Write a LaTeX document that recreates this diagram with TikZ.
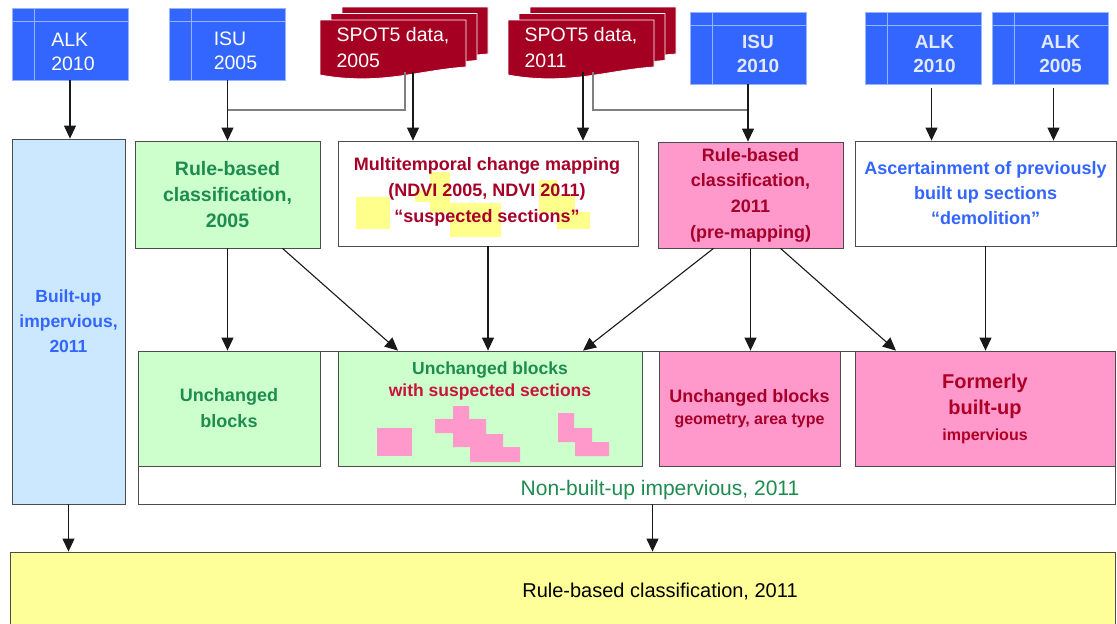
\documentclass[tikz,border=0pt]{standalone}
\usepackage{fontspec}
\setmainfont{Liberation Sans}
\usetikzlibrary{arrows.meta}

\definecolor{dbblue}{RGB}{51,102,255}
\definecolor{dbline}{RGB}{150,180,255}
\definecolor{dbwhite}{RGB}{225,232,255}
\definecolor{spotred}{RGB}{165,0,33}
\definecolor{lgreen}{RGB}{204,255,204}
\definecolor{tgreen}{RGB}{30,140,80}
\definecolor{pinkfill}{RGB}{255,153,204}
\definecolor{tred}{RGB}{165,0,40}
\definecolor{tcrim}{RGB}{200,20,60}
\definecolor{lblue}{RGB}{204,232,255}
\definecolor{tblue}{RGB}{51,102,255}
\definecolor{yfill}{RGB}{255,255,153}
\definecolor{hlyel}{RGB}{255,255,140}

\tikzset{
  arr/.style={draw=black!90, line width=1.1pt, -{Triangle[width=12pt,length=13pt]}},
  feed/.style={draw=black!50, line width=1.5pt},
  box/.style={rectangle, draw=black!70, line width=.8pt, inner sep=0pt, align=center},
  dbbox/.style={rectangle, fill=dbblue, draw=dbline, line width=.6pt, inner sep=0pt,
    minimum width=116pt, minimum height=72pt,
    path picture={\draw[dbline, line width=.8pt]
      ([yshift=-13pt]path picture bounding box.north west) -- ([yshift=-13pt]path picture bounding box.north east)
      ([xshift=22pt]path picture bounding box.north west) -- ([xshift=22pt]path picture bounding box.south west);}},
  dbtxt/.style={text=white, align=left, inner sep=0pt, font=\fontsize{19.5}{24}\selectfont},
  dbtxtb/.style={dbtxt, text=dbwhite, align=center, font=\bfseries\fontsize{19}{24}\selectfont},
  spotdoc/.style={fill=spotred, draw=white, line width=.8pt},
  spottxt/.style={text=white, align=left, inner sep=4pt, font=\fontsize{19.5}{26}\selectfont},
  greenbox/.style={box, fill=lgreen, text=tgreen},
  pinkbox/.style={box, fill=pinkfill, text=tred},
  whitebox/.style={box, fill=white},
}

% pila de imagenes SPOT
\newcommand{\spotstack}[4]{%
  \foreach \k in {2,1,0}{%
    \filldraw[spotdoc, shift={(#2+11*\k,#3-6.5*\k)}]
      (0,0) -- (146,0) -- (146,47) .. controls (100,50) and (60,66) .. (0,55) -- cycle;
  }
  \node[spottxt] (#1) at (#2+73,#3+28) {#4};
}

\begin{document}
\begin{tikzpicture}[x=1pt,y=-1pt]
  \useasboundingbox (0,0) rectangle (1117,624);

  % Fuentes de datos
  \node[dbbox] (alkA) at (70,44) {};
  \node[dbtxt] (alkAt) at ([shift={(3pt,-8pt)}]alkA.center) {ALK\\2010};
  \node[dbbox] (isuA) at (227.5,44) {};
  \node[dbtxt] (isuAt) at ([shift={(8pt,-7pt)}]isuA.center) {ISU\\2005};
  \node[dbbox] (isuB) at (748,48) {};
  \node[dbtxtb] (isuBt) at ([shift={(10pt,-6pt)}]isuB.center) {ISU\\2010};
  \node[dbbox] (alkB) at (923.5,48) {};
  \node[dbtxtb] (alkBt) at ([shift={(11pt,-6pt)}]alkB.center) {ALK\\2010};
  \node[dbbox] (alkC) at (1050.5,48) {};
  \node[dbtxtb] (alkCt) at ([shift={(10pt,-6pt)}]alkC.center) {ALK\\2005};

  \spotstack{spotA}{320}{20}{SPOT5 data,\\2005}
  \spotstack{spotB}{508}{20}{SPOT5 data,\\2011}

  % Clasificaciones
  \node[box, fill=lblue, text=tblue, minimum width=113pt, minimum height=365pt,
    font=\bfseries\fontsize{17.5}{25}\selectfont] (built) at (68.5,321.5) {Built-up\\impervious,\\2011};
  \node[greenbox, minimum width=185pt, minimum height=107pt,
    font=\bfseries\fontsize{19.5}{26}\selectfont] (rule05) at (227.5,194.5) {Rule-based\\classification,\\2005};
  \node[whitebox, minimum width=300pt, minimum height=105pt] (multi) at (488,193.5) {};
  \fill[hlyel] (356,197) rectangle (390,229);
  \fill[hlyel] (430,172) rectangle (450,213);
  \fill[hlyel] (415,190) rectangle (430,202);
  \fill[hlyel] (450,203) rectangle (501,237);
  \fill[hlyel] (539,180) rectangle (557,213);
  \fill[hlyel] (557,195) rectangle (575,213);
  \fill[hlyel] (557,212) rectangle (590,229);
  \node[text=tred, align=center, font=\bfseries\fontsize{18}{26}\selectfont] (multit) at (487,192)
    {Multitemporal change mapping\\(NDVI 2005, NDVI 2011)\\“suspected sections”};
  \node[pinkbox, minimum width=185pt, minimum height=106pt,
    font=\bfseries\fontsize{18}{25.6}\selectfont] (rule11) at (750.5,195) {Rule-based\\classification,\\2011\\(pre-mapping)};
  \node[whitebox, text=tblue, minimum width=261pt, minimum height=105pt,
    font=\bfseries\fontsize{18}{25}\selectfont] (ascert) at (985.5,193.5) {Ascertainment of previously\\built up sections\\“demolition”};

  % Bloques
  \node[whitebox, minimum width=977pt, minimum height=153pt] (nonbuilt) at (626.5,427.5) {};
  \node[text=tgreen, font=\fontsize{21}{25}\selectfont] (nbt) at (660,490) {Non-built-up impervious, 2011};
  \node[greenbox, minimum width=182pt, minimum height=115pt,
    font=\bfseries\fontsize{18}{26}\selectfont] (unchA) at (229,408.5) {Unchanged\\blocks};
  \node[greenbox, minimum width=304pt, minimum height=115pt] (unchS) at (490,408.5) {};
  \node[align=center, font=\bfseries\fontsize{17.5}{22}\selectfont] (unchSt) at (490,381)
    {\textcolor{tgreen}{Unchanged blocks}\\\textcolor{tcrim}{with suspected sections}};
  \fill[pinkfill] (377,428) rectangle (412,456);
  \fill[pinkfill] (453,406) -- (469,406) -- (469,419) -- (486,419) -- (486,434) -- (503,434) -- (503,447)
    -- (520,447) -- (520,462) -- (470,462) -- (470,447) -- (453,447) -- (453,433) -- (435,433)
    -- (435,419) -- (453,419) -- cycle;
  \fill[pinkfill] (558,413) -- (574,413) -- (574,428) -- (592,428) -- (592,442) -- (609,442) -- (609,456)
    -- (575,456) -- (575,442) -- (558,442) -- cycle;
  \node[pinkbox, minimum width=181pt, minimum height=115pt,
    font=\bfseries\fontsize{18}{22}\selectfont] (unchP) at (749.5,408.5)
    {Unchanged blocks\\{\fontsize{16}{22}\selectfont geometry, area type}};
  \node[pinkbox, text=tred!90!red, minimum width=260pt, minimum height=115pt,
    font=\bfseries\fontsize{20}{26}\selectfont] (former) at (985,408.5)
    {Formerly\\built-up\\{\fontsize{16}{26}\selectfont impervious}};

  % Resultado
  \node[box, fill=yfill, minimum width=1105pt, minimum height=88pt] (final) at (562.5,596) {};
  \node[font=\fontsize{20}{24}\selectfont] (finalt) at (660,592) {Rule-based classification, 2011};

  % Flechas
  \draw[feed] ([xshift=12pt]spotA.south) |- (isuA.south |- 0,110);
  \draw[feed] ([xshift=12pt]spotB.south) |- (isuB.south |- 0,110);
  \draw[arr] (alkA.south) -- (alkA.south |- built.north);
  \draw[arr] (isuA.south) -- (isuA.south |- rule05.north);
  \draw[arr] ([xshift=20pt]spotA.south) -- ([xshift=20pt]spotA.south |- multi.north);
  \draw[arr] ([xshift=2pt]spotB.south) -- ([xshift=2pt]spotB.south |- multi.north);
  \draw[arr] (isuB.south) -- (isuB.south |- rule11.north);
  \draw[arr] ([shift={(8pt,-4pt)}]alkB.south) -- ([xshift=8pt]alkB.south |- ascert.north);
  \draw[arr] ([shift={(3pt,-4pt)}]alkC.south) -- ([xshift=3pt]alkC.south |- ascert.north);

  \draw[arr] (rule05.south) -- (rule05.south |- unchA.north);
  \draw[arr] ([xshift=55pt]rule05.south) -- ([xshift=-92pt]unchS.north);
  \draw[arr] (multi.south) -- (multi.south |- unchS.north);
  \draw[arr] ([xshift=-37pt]rule11.south) -- ([xshift=93pt]unchS.north);
  \draw[arr] (rule11.south) -- (rule11.south |- unchP.north);
  \draw[arr] ([xshift=30pt]rule11.south) -- ([xshift=-89pt]former.north);
  \draw[arr] (ascert.south) -- (ascert.south |- former.north);

  \draw[arr] (built.south) -- (built.south |- final.north);
  \draw[arr] ([xshift=26pt]nonbuilt.south) -- ([xshift=26pt]nonbuilt.south |- final.north);
\end{tikzpicture}
\end{document}
